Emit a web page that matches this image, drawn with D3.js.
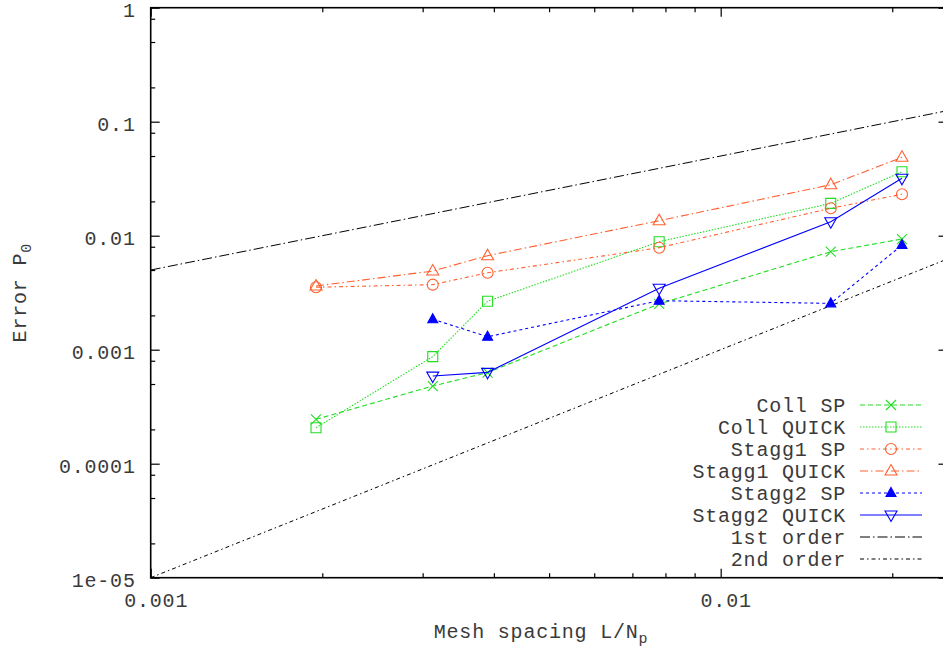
<!DOCTYPE html>
<html>
<head>
<meta charset="utf-8">
<script src="https://cdn.jsdelivr.net/npm/d3@7"></script>
<style>
  body { margin: 0; background: #fff; }
  text { font-family: "Liberation Mono", "DejaVu Sans Mono", monospace; font-size: 20px; fill: #3a3a3a; letter-spacing: 0.8px; }
</style>
</head>
<body>
<svg width="943" height="652"></svg>
<script>
// mesh spacing values (x) shared by all series
const meshSpacing = [0.00195, 0.003125, 0.0039, 0.0078, 0.0156, 0.0208];

// error values, null = no point
const collSP = [2.45e-4, 4.8e-4, 6.3e-4, 2.52e-3, 7.24e-3, 9.35e-3];
const collQUICK = [2.07e-4, 8.7e-4, 2.66e-3, 8.86e-3, 1.92e-2, 3.64e-2];
const stagg1SP = [3.53e-3, 3.72e-3, 4.73e-3, 7.85e-3, 1.74e-2, 2.31e-2];
const stagg1QUICK = [3.62e-3, 4.9e-3, 6.68e-3, 1.354e-2, 2.8e-2, 4.87e-2];
const stagg2SP = [null, 1.85e-3, 1.3e-3, 2.69e-3, 2.55e-3, 8.28e-3];
const stagg2QUICK = [null, 5.87e-4, 6.33e-4, 3.46e-3, 1.327e-2, 3.19e-2];

// reference slopes (end points)
const firstOrder = [[0.001, 0.005], [0.025, 0.125]];
const secondOrder = [[0.001, 0.00001], [0.025, 0.00625]];

// tick labels
const xMajor = [0.001, 0.01];
const xMajorLabels = ["0.001", "0.01"];
const xMinor = [0.002, 0.003, 0.004, 0.005, 0.006, 0.007, 0.008, 0.009, 0.02];
const yMajor = [1, 0.1, 0.01, 0.001, 0.0001, 0.00001];
const yMajorLabels = ["1", "0.1", "0.01", "0.001", "0.0001", "1e-05"];
const yMinor = [];
[1, 0.1, 0.01, 0.001, 0.0001].forEach(function(d) {
  yMinor.push(d * 0.8, d * 0.5, d * 0.2);
});

const green = "#22dd22", orange = "#ff6030", blue = "#0000ff", black = "#000";

// series styling
const series = [
  { name: "Coll SP", values: collSP, color: green, dash: "5,3", marker: "cross" },
  { name: "Coll QUICK", values: collQUICK, color: green, dash: "1.5,1.5", marker: "square" },
  { name: "Stagg1 SP", values: stagg1SP, color: orange, dash: "4,3,1.5,3", marker: "circle" },
  { name: "Stagg1 QUICK", values: stagg1QUICK, color: orange, dash: "8,3,1.5,3", marker: "triUp" },
  { name: "Stagg2 SP", values: stagg2SP, color: blue, dash: "3,3", marker: "triFill" },
  { name: "Stagg2 QUICK", values: stagg2QUICK, color: blue, dash: null, marker: "triDown" }
];
const refLines = [
  { name: "1st order", pts: firstOrder, dash: "10,3,1.5,3" },
  { name: "2nd order", pts: secondOrder, dash: "4,3,1.5,3" }
];

let svg = d3.select("svg");
let plotLeft = 150.7, plotRight = 947.5, plotTop = 7.7, plotBottom = 577.7;

let xScale = d3.scaleLog().domain([0.001, 0.025]).range([plotLeft, plotRight]);
let yScale = d3.scaleLog().domain([0.00001, 1]).range([plotBottom, plotTop]);

svg.append("clipPath").attr("id", "plotclip")
  .append("rect")
  .attr("x", plotLeft).attr("y", plotTop)
  .attr("width", plotRight - plotLeft).attr("height", plotBottom - plotTop);

// marker path, centred on 0,0
function markerPath(type) {
  let p = d3.path();
  if (type == "cross") {
    p.moveTo(-5, -5); p.lineTo(5, 5);
    p.moveTo(-5, 5); p.lineTo(5, -5);
  } else if (type == "square") {
    p.rect(-5, -5, 10, 10);
  } else if (type == "circle") {
    p.arc(0, 0, 5.5, 0, 2 * Math.PI);
  } else if (type == "triUp") {
    p.moveTo(0, -6.5); p.lineTo(6, 4); p.lineTo(-6, 4); p.closePath();
  } else if (type == "triFill") {
    p.moveTo(0, -5.5); p.lineTo(5, 3.5); p.lineTo(-5, 3.5); p.closePath();
  } else if (type == "triDown") {
    p.moveTo(0, 6.5); p.lineTo(6, -4); p.lineTo(-6, -4); p.closePath();
  }
  return p.toString();
}

// AXES
function drawAxis(axis, tr) {
  let g = svg.append("g").attr("transform", tr).call(axis);
  g.select(".domain").remove();
  g.selectAll(".tick line").attr("stroke", black).attr("stroke-width", 1.2);
  g.selectAll("text").attr("font-family", null).attr("font-size", null).attr("fill", null);
  return g;
}

let xb = drawAxis(d3.axisBottom(xScale).tickValues(xMajor).tickSize(-9).tickPadding(15)
  .tickFormat(function(d, i) { return xMajorLabels[i]; }), "translate(0," + plotBottom + ")");
xb.selectAll("text").attr("dx", 5);
drawAxis(d3.axisBottom(xScale).tickValues(xMinor).tickSize(-4.5).tickFormat(""), "translate(0," + plotBottom + ")");
drawAxis(d3.axisTop(xScale).tickValues(xMajor).tickSize(-9).tickFormat(""), "translate(0," + plotTop + ")");
drawAxis(d3.axisTop(xScale).tickValues(xMinor).tickSize(-4.5).tickFormat(""), "translate(0," + plotTop + ")");

let yl = drawAxis(d3.axisLeft(yScale).tickValues(yMajor).tickSize(-9).tickPadding(15)
  .tickFormat(function(d, i) { return yMajorLabels[i]; }), "translate(" + plotLeft + ",0)");
yl.selectAll("text").attr("y", 2);
drawAxis(d3.axisLeft(yScale).tickValues(yMinor).tickSize(-4.5).tickFormat(""), "translate(" + plotLeft + ",0)");
drawAxis(d3.axisRight(yScale).tickValues(yMajor).tickSize(-9).tickFormat(""), "translate(" + plotRight + ",0)");
drawAxis(d3.axisRight(yScale).tickValues(yMinor).tickSize(-4.5).tickFormat(""), "translate(" + plotRight + ",0)");

// frame
svg.append("rect")
  .attr("x", plotLeft).attr("y", plotTop)
  .attr("width", plotRight - plotLeft).attr("height", plotBottom - plotTop)
  .attr("fill", "none").attr("stroke", black).attr("stroke-width", 1.6);

// axis titles
let xt = svg.append("text")
  .attr("x", (plotLeft + plotRight) / 2 - 8).attr("y", 638)
  .attr("text-anchor", "middle");
xt.append("tspan").text("Mesh spacing L/N");
xt.append("tspan").attr("dy", 5).attr("font-size", "15px").text("p");

let yt = svg.append("text")
  .attr("transform", "translate(26," + ((plotTop + plotBottom) / 2) + ") rotate(-90)")
  .attr("text-anchor", "middle");
yt.append("tspan").text("Error P");
yt.append("tspan").attr("dy", 5).attr("font-size", "15px").text("0");

// DATA
let plot = svg.append("g").attr("clip-path", "url(#plotclip)");

let line = d3.line()
  .defined(function(d) { return d[1] != null; })
  .x(function(d) { return xScale(d[0]); })
  .y(function(d) { return yScale(d[1]); });

refLines.forEach(function(r) {
  plot.append("path")
    .attr("d", line(r.pts))
    .attr("fill", "none").attr("stroke", black).attr("stroke-width", 1)
    .attr("stroke-dasharray", r.dash);
});

series.forEach(function(s) {
  let pts = meshSpacing.map(function(x, i) { return [x, s.values[i]]; });
  plot.append("path")
    .attr("d", line(pts))
    .attr("fill", "none").attr("stroke", s.color).attr("stroke-width", 1.1)
    .attr("stroke-dasharray", s.dash);
  plot.selectAll(null)
    .data(pts.filter(function(d) { return d[1] != null; }))
    .enter()
    .append("path")
    .attr("transform", function(d) { return "translate(" + xScale(d[0]) + "," + yScale(d[1]) + ")"; })
    .attr("d", markerPath(s.marker))
    .attr("fill", s.marker == "triFill" ? s.color : "none")
    .attr("stroke", s.color).attr("stroke-width", 1.1);
});

// LEGEND
let legendRows = series.concat(refLines.map(function(r) {
  return { name: r.name, color: black, dash: r.dash, marker: null };
}));
let legend = svg.append("g");
legendRows.forEach(function(s, i) {
  let y = 405 + 22 * i;
  legend.append("text")
    .attr("x", 846).attr("y", y + 7)
    .attr("text-anchor", "end")
    .text(s.name);
  legend.append("line")
    .attr("x1", 860).attr("x2", 922).attr("y1", y).attr("y2", y)
    .attr("stroke", s.color).attr("stroke-width", 1.1)
    .attr("stroke-dasharray", s.dash);
  if (s.marker) {
    legend.append("path")
      .attr("transform", "translate(891," + y + ")")
      .attr("d", markerPath(s.marker))
      .attr("fill", s.marker == "triFill" ? s.color : "none")
      .attr("stroke", s.color).attr("stroke-width", 1.1);
  }
});
</script>
</body>
</html>
